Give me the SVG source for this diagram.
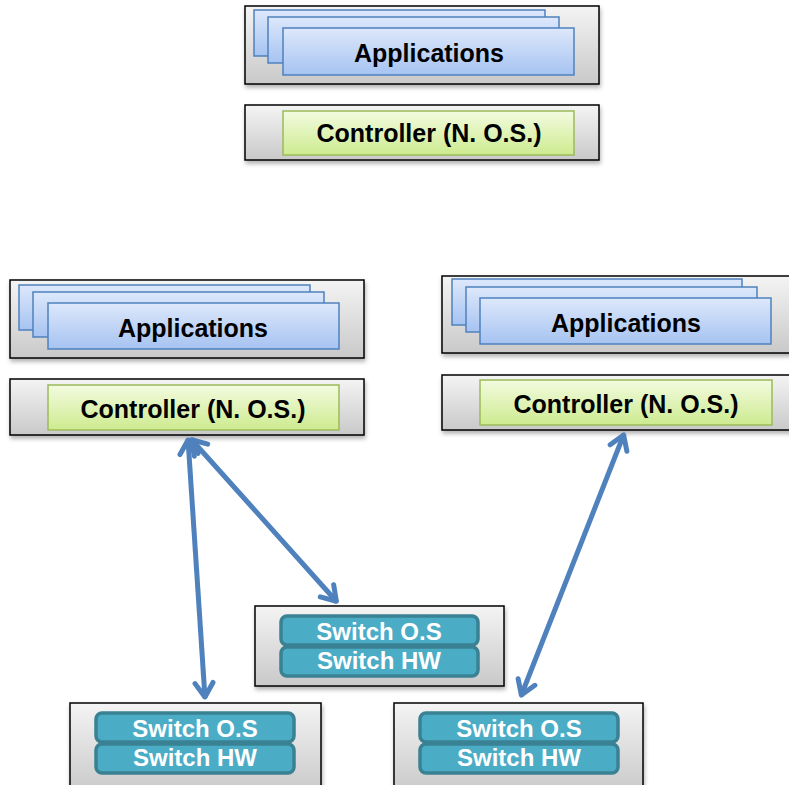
<svg xmlns="http://www.w3.org/2000/svg" width="789" height="785" viewBox="0 0 789 785">
<style>
.outer{fill:url(#gGray);stroke:#000;stroke-width:1.5;filter:url(#sh)}
.app{fill:url(#gBlue);stroke:#4f81bd;stroke-width:1.5}
.ctl{fill:url(#gGreen);stroke:#9bbb59;stroke-width:1.5}
.sw{fill:#4bacc6;stroke:#3a8194;stroke-width:3.5}
.lbl{font-family:"Liberation Sans",Arial,sans-serif;font-weight:bold;font-size:25px;fill:#000;text-anchor:middle}
.swl{font-family:"Liberation Sans",Arial,sans-serif;font-weight:bold;font-size:24px;fill:#fff;text-anchor:middle}
.conn{stroke:#4f81bd;stroke-width:5;fill:none;marker-start:url(#ah);marker-end:url(#ah)}
</style>
<defs>
<linearGradient id="gGray" x1="0" y1="0" x2="0" y2="1"><stop offset="0" stop-color="#f4f4f4"/><stop offset="1" stop-color="#c9c9c9"/></linearGradient>
<linearGradient id="gBlue" x1="0" y1="0" x2="0" y2="1"><stop offset="0" stop-color="#dde8fb"/><stop offset="1" stop-color="#a6c3f1"/></linearGradient>
<linearGradient id="gGreen" x1="0" y1="0" x2="0" y2="1"><stop offset="0" stop-color="#f3fbe0"/><stop offset="1" stop-color="#cdeb8f"/></linearGradient>
<filter id="sh" x="-5%" y="-10%" width="110%" height="130%"><feDropShadow dx="1" dy="3" stdDeviation="2" flood-color="#000" flood-opacity="0.3"/></filter>
<marker id="ah" viewBox="0 0 20 24" refX="18" refY="12" markerWidth="20" markerHeight="24" markerUnits="userSpaceOnUse" orient="auto-start-reverse">
<path d="M3,3 L17,12 L3,21" fill="none" stroke="#4f81bd" stroke-width="5" stroke-linecap="round" stroke-linejoin="round"/>
</marker>
</defs>
<g id="top-apps">
<rect class="outer" x="245" y="6" width="354" height="78"/>
<rect class="app" x="254" y="10" width="291" height="46"/>
<rect class="app" x="268" y="17" width="291" height="46"/>
<rect class="app" x="283" y="28" width="291" height="47"/>
<text class="lbl" x="429" y="62">Applications</text>
</g>
<g id="top-controller">
<rect class="outer" x="245" y="105" width="354" height="55"/>
<rect class="ctl" x="283" y="111" width="291" height="44"/>
<text class="lbl" x="429" y="142">Controller (N. O.S.)</text>
</g>
<g id="left-apps">
<rect class="outer" x="10" y="280" width="354" height="78"/>
<rect class="app" x="19" y="285" width="291" height="45"/>
<rect class="app" x="33" y="292" width="291" height="45"/>
<rect class="app" x="48" y="303" width="291" height="46"/>
<text class="lbl" x="193" y="337">Applications</text>
</g>
<g id="left-controller">
<rect class="outer" x="10" y="379" width="354" height="56"/>
<rect class="ctl" x="48" y="385" width="291" height="45"/>
<text class="lbl" x="193" y="418">Controller (N. O.S.)</text>
</g>
<g id="right-apps">
<rect class="outer" x="442" y="276" width="354" height="77"/>
<rect class="app" x="452" y="279" width="290" height="46"/>
<rect class="app" x="466" y="287" width="291" height="45"/>
<rect class="app" x="480" y="298" width="291" height="46"/>
<text class="lbl" x="626" y="332">Applications</text>
</g>
<g id="right-controller">
<rect class="outer" x="442" y="375" width="354" height="55"/>
<rect class="ctl" x="480" y="380" width="292" height="45"/>
<text class="lbl" x="626" y="413">Controller (N. O.S.)</text>
</g>
<g id="switch-mid">
<rect class="outer" x="255" y="606" width="249" height="80"/>
<rect class="sw" x="281" y="616" width="197" height="29" rx="6"/>
<rect class="sw" x="281" y="647" width="197" height="29" rx="6"/>
<text class="swl" x="379" y="640">Switch O.S</text>
<text class="swl" x="379" y="669">Switch HW</text>
</g>
<g id="switch-left">
<rect class="outer" x="70" y="703" width="251" height="90"/>
<rect class="sw" x="96" y="713" width="198" height="29" rx="6"/>
<rect class="sw" x="96" y="744" width="198" height="29" rx="6"/>
<text class="swl" x="195" y="737">Switch O.S</text>
<text class="swl" x="195" y="766">Switch HW</text>
</g>
<g id="switch-right">
<rect class="outer" x="394" y="703" width="249" height="90"/>
<rect class="sw" x="420" y="713" width="198" height="29" rx="6"/>
<rect class="sw" x="420" y="744" width="198" height="29" rx="6"/>
<text class="swl" x="519" y="737">Switch O.S</text>
<text class="swl" x="519" y="766">Switch HW</text>
</g>
<g id="connectors">
<line class="conn" x1="188" y1="439" x2="205" y2="698"/>
<line class="conn" x1="191" y1="439" x2="337" y2="602"/>
<line class="conn" x1="624" y1="434" x2="521" y2="696"/>
</g>
</svg>
